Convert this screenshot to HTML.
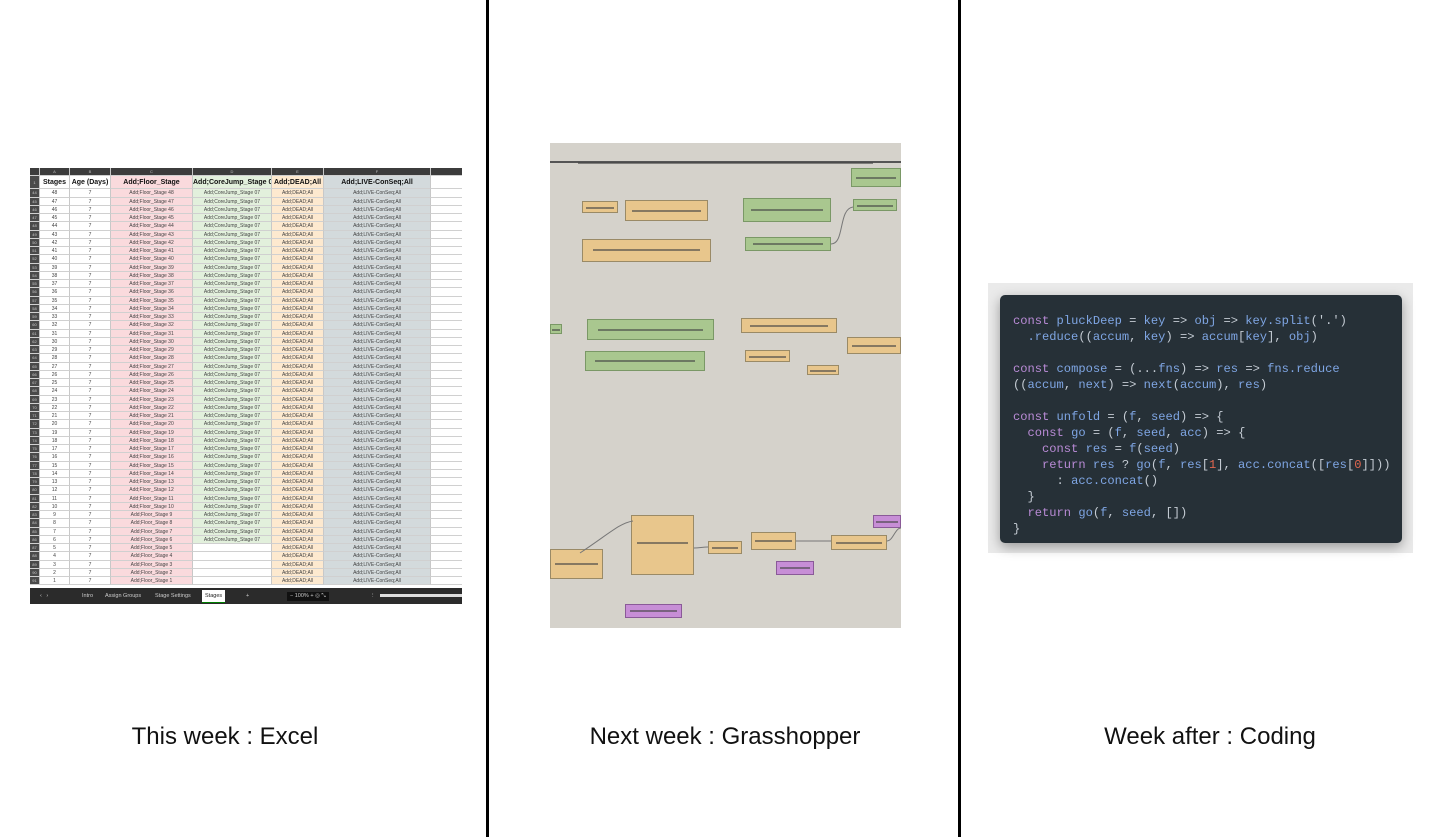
<!DOCTYPE html>
<html><head><meta charset="utf-8"><style>
*{margin:0;padding:0;box-sizing:border-box}
body{width:1451px;height:837px;background:#fff;position:relative;overflow:hidden;font-family:"Liberation Sans",sans-serif}
.vl{position:absolute;top:0;width:3px;height:837px;background:#000}
.cap{position:absolute;top:723px;font-size:24px;color:#111;text-align:center;width:470px}
#xl{position:absolute;left:30px;top:168px;width:432px;height:436px;background:#fff;overflow:hidden;font-size:5px;color:#444}
.r{display:flex;height:8.25px;line-height:8.25px}
.r>*{flex:none;text-align:center;border-right:1px solid #c8c8c8;border-bottom:1px solid #d0d0d0;font-style:normal;font-weight:normal;white-space:nowrap;overflow:hidden}
.r>i{width:10px;background:#4a4a4a;color:#ccc;font-size:4px}
.r>b:nth-child(2){width:30px}.r>b:nth-child(3){width:41px}
.r>b.c{width:82px;background:#fadadd}.r>b.d{width:79px;background:#e2f0dc}.r>b.e{width:52px;background:#fde9cf}.r>b.f{width:107px;background:#d3dadc}
.r>b.g{width:31px;border-right:none}
.h>*{background:#3c3c3c!important;color:#bbb;font-size:4px;height:8px}
.h1{height:13px!important;line-height:13px!important}
.h1>b{font-weight:bold!important;font-size:7px;color:#111}
.h1>b.f,.h1>b.c,.h1>b.d,.h1>b.e{font-size:7px}
#tabs{position:absolute;left:0;top:420px;width:432px;height:16px;background:#2b2b2b;color:#ccc;font-size:5.5px}
#tabs span{position:absolute;top:5px}
#gh{position:absolute;left:550px;top:143px;width:351px;height:485px;background:#d5d2cb;overflow:hidden}
#gh div{position:absolute;border:1px solid #9a8a66}
.o{background:#e8c68c}.gr{background:#a9c78f;border-color:#7a9866!important}.p{background:#c78ed6;border-color:#8a5a98!important}
#gh div::after{content:"";position:absolute;left:8%;right:8%;top:45%;height:2px;background:#444;opacity:.6}
#cs{position:absolute;left:988px;top:283px;width:425px;height:270px;background:#eaeaea}
#cb{position:absolute;left:1000px;top:295px;width:402px;height:248px;background:#263037;border-radius:5px;box-shadow:0 4px 12px rgba(0,0,0,.35)}
#code{position:absolute;left:1013px;top:313px;font-family:"Liberation Mono",monospace;font-size:12.1px;line-height:16px;color:#7fa6e4;white-space:pre}
.k{color:#b98bd6}.pu{color:#c5ccd4}.n{color:#e2674f}
</style></head><body>
<div class="vl" style="left:486px"></div>
<div class="vl" style="left:958px"></div>

<div id="xl">
<div class="r h"><i></i><b>A</b><b>B</b><b class="c">C</b><b class="d">D</b><b class="e">E</b><b class="f">F</b><b class="g"></b></div>
<div class="r h1"><i>1</i><b>Stages</b><b>Age (Days)</b><b class="c">Add;Floor_Stage</b><b class="d">Add;CoreJump_Stage 07</b><b class="e">Add;DEAD;All</b><b class="f">Add;LIVE-ConSeq;All</b><b class="g"></b></div>
<div class="r"><i>44</i><b>48</b><b>7</b><b class="c">Add;Floor_Stage 48</b><b class="d">Add;CoreJump_Stage 07</b><b class="e">Add;DEAD;All</b><b class="f">Add;LIVE-ConSeq;All</b><b class="g"></b></div>
<div class="r"><i>45</i><b>47</b><b>7</b><b class="c">Add;Floor_Stage 47</b><b class="d">Add;CoreJump_Stage 07</b><b class="e">Add;DEAD;All</b><b class="f">Add;LIVE-ConSeq;All</b><b class="g"></b></div>
<div class="r"><i>46</i><b>46</b><b>7</b><b class="c">Add;Floor_Stage 46</b><b class="d">Add;CoreJump_Stage 07</b><b class="e">Add;DEAD;All</b><b class="f">Add;LIVE-ConSeq;All</b><b class="g"></b></div>
<div class="r"><i>47</i><b>45</b><b>7</b><b class="c">Add;Floor_Stage 45</b><b class="d">Add;CoreJump_Stage 07</b><b class="e">Add;DEAD;All</b><b class="f">Add;LIVE-ConSeq;All</b><b class="g"></b></div>
<div class="r"><i>48</i><b>44</b><b>7</b><b class="c">Add;Floor_Stage 44</b><b class="d">Add;CoreJump_Stage 07</b><b class="e">Add;DEAD;All</b><b class="f">Add;LIVE-ConSeq;All</b><b class="g"></b></div>
<div class="r"><i>49</i><b>43</b><b>7</b><b class="c">Add;Floor_Stage 43</b><b class="d">Add;CoreJump_Stage 07</b><b class="e">Add;DEAD;All</b><b class="f">Add;LIVE-ConSeq;All</b><b class="g"></b></div>
<div class="r"><i>50</i><b>42</b><b>7</b><b class="c">Add;Floor_Stage 42</b><b class="d">Add;CoreJump_Stage 07</b><b class="e">Add;DEAD;All</b><b class="f">Add;LIVE-ConSeq;All</b><b class="g"></b></div>
<div class="r"><i>51</i><b>41</b><b>7</b><b class="c">Add;Floor_Stage 41</b><b class="d">Add;CoreJump_Stage 07</b><b class="e">Add;DEAD;All</b><b class="f">Add;LIVE-ConSeq;All</b><b class="g"></b></div>
<div class="r"><i>52</i><b>40</b><b>7</b><b class="c">Add;Floor_Stage 40</b><b class="d">Add;CoreJump_Stage 07</b><b class="e">Add;DEAD;All</b><b class="f">Add;LIVE-ConSeq;All</b><b class="g"></b></div>
<div class="r"><i>53</i><b>39</b><b>7</b><b class="c">Add;Floor_Stage 39</b><b class="d">Add;CoreJump_Stage 07</b><b class="e">Add;DEAD;All</b><b class="f">Add;LIVE-ConSeq;All</b><b class="g"></b></div>
<div class="r"><i>54</i><b>38</b><b>7</b><b class="c">Add;Floor_Stage 38</b><b class="d">Add;CoreJump_Stage 07</b><b class="e">Add;DEAD;All</b><b class="f">Add;LIVE-ConSeq;All</b><b class="g"></b></div>
<div class="r"><i>55</i><b>37</b><b>7</b><b class="c">Add;Floor_Stage 37</b><b class="d">Add;CoreJump_Stage 07</b><b class="e">Add;DEAD;All</b><b class="f">Add;LIVE-ConSeq;All</b><b class="g"></b></div>
<div class="r"><i>56</i><b>36</b><b>7</b><b class="c">Add;Floor_Stage 36</b><b class="d">Add;CoreJump_Stage 07</b><b class="e">Add;DEAD;All</b><b class="f">Add;LIVE-ConSeq;All</b><b class="g"></b></div>
<div class="r"><i>57</i><b>35</b><b>7</b><b class="c">Add;Floor_Stage 35</b><b class="d">Add;CoreJump_Stage 07</b><b class="e">Add;DEAD;All</b><b class="f">Add;LIVE-ConSeq;All</b><b class="g"></b></div>
<div class="r"><i>58</i><b>34</b><b>7</b><b class="c">Add;Floor_Stage 34</b><b class="d">Add;CoreJump_Stage 07</b><b class="e">Add;DEAD;All</b><b class="f">Add;LIVE-ConSeq;All</b><b class="g"></b></div>
<div class="r"><i>59</i><b>33</b><b>7</b><b class="c">Add;Floor_Stage 33</b><b class="d">Add;CoreJump_Stage 07</b><b class="e">Add;DEAD;All</b><b class="f">Add;LIVE-ConSeq;All</b><b class="g"></b></div>
<div class="r"><i>60</i><b>32</b><b>7</b><b class="c">Add;Floor_Stage 32</b><b class="d">Add;CoreJump_Stage 07</b><b class="e">Add;DEAD;All</b><b class="f">Add;LIVE-ConSeq;All</b><b class="g"></b></div>
<div class="r"><i>61</i><b>31</b><b>7</b><b class="c">Add;Floor_Stage 31</b><b class="d">Add;CoreJump_Stage 07</b><b class="e">Add;DEAD;All</b><b class="f">Add;LIVE-ConSeq;All</b><b class="g"></b></div>
<div class="r"><i>62</i><b>30</b><b>7</b><b class="c">Add;Floor_Stage 30</b><b class="d">Add;CoreJump_Stage 07</b><b class="e">Add;DEAD;All</b><b class="f">Add;LIVE-ConSeq;All</b><b class="g"></b></div>
<div class="r"><i>63</i><b>29</b><b>7</b><b class="c">Add;Floor_Stage 29</b><b class="d">Add;CoreJump_Stage 07</b><b class="e">Add;DEAD;All</b><b class="f">Add;LIVE-ConSeq;All</b><b class="g"></b></div>
<div class="r"><i>64</i><b>28</b><b>7</b><b class="c">Add;Floor_Stage 28</b><b class="d">Add;CoreJump_Stage 07</b><b class="e">Add;DEAD;All</b><b class="f">Add;LIVE-ConSeq;All</b><b class="g"></b></div>
<div class="r"><i>65</i><b>27</b><b>7</b><b class="c">Add;Floor_Stage 27</b><b class="d">Add;CoreJump_Stage 07</b><b class="e">Add;DEAD;All</b><b class="f">Add;LIVE-ConSeq;All</b><b class="g"></b></div>
<div class="r"><i>66</i><b>26</b><b>7</b><b class="c">Add;Floor_Stage 26</b><b class="d">Add;CoreJump_Stage 07</b><b class="e">Add;DEAD;All</b><b class="f">Add;LIVE-ConSeq;All</b><b class="g"></b></div>
<div class="r"><i>67</i><b>25</b><b>7</b><b class="c">Add;Floor_Stage 25</b><b class="d">Add;CoreJump_Stage 07</b><b class="e">Add;DEAD;All</b><b class="f">Add;LIVE-ConSeq;All</b><b class="g"></b></div>
<div class="r"><i>68</i><b>24</b><b>7</b><b class="c">Add;Floor_Stage 24</b><b class="d">Add;CoreJump_Stage 07</b><b class="e">Add;DEAD;All</b><b class="f">Add;LIVE-ConSeq;All</b><b class="g"></b></div>
<div class="r"><i>69</i><b>23</b><b>7</b><b class="c">Add;Floor_Stage 23</b><b class="d">Add;CoreJump_Stage 07</b><b class="e">Add;DEAD;All</b><b class="f">Add;LIVE-ConSeq;All</b><b class="g"></b></div>
<div class="r"><i>70</i><b>22</b><b>7</b><b class="c">Add;Floor_Stage 22</b><b class="d">Add;CoreJump_Stage 07</b><b class="e">Add;DEAD;All</b><b class="f">Add;LIVE-ConSeq;All</b><b class="g"></b></div>
<div class="r"><i>71</i><b>21</b><b>7</b><b class="c">Add;Floor_Stage 21</b><b class="d">Add;CoreJump_Stage 07</b><b class="e">Add;DEAD;All</b><b class="f">Add;LIVE-ConSeq;All</b><b class="g"></b></div>
<div class="r"><i>72</i><b>20</b><b>7</b><b class="c">Add;Floor_Stage 20</b><b class="d">Add;CoreJump_Stage 07</b><b class="e">Add;DEAD;All</b><b class="f">Add;LIVE-ConSeq;All</b><b class="g"></b></div>
<div class="r"><i>73</i><b>19</b><b>7</b><b class="c">Add;Floor_Stage 19</b><b class="d">Add;CoreJump_Stage 07</b><b class="e">Add;DEAD;All</b><b class="f">Add;LIVE-ConSeq;All</b><b class="g"></b></div>
<div class="r"><i>74</i><b>18</b><b>7</b><b class="c">Add;Floor_Stage 18</b><b class="d">Add;CoreJump_Stage 07</b><b class="e">Add;DEAD;All</b><b class="f">Add;LIVE-ConSeq;All</b><b class="g"></b></div>
<div class="r"><i>75</i><b>17</b><b>7</b><b class="c">Add;Floor_Stage 17</b><b class="d">Add;CoreJump_Stage 07</b><b class="e">Add;DEAD;All</b><b class="f">Add;LIVE-ConSeq;All</b><b class="g"></b></div>
<div class="r"><i>76</i><b>16</b><b>7</b><b class="c">Add;Floor_Stage 16</b><b class="d">Add;CoreJump_Stage 07</b><b class="e">Add;DEAD;All</b><b class="f">Add;LIVE-ConSeq;All</b><b class="g"></b></div>
<div class="r"><i>77</i><b>15</b><b>7</b><b class="c">Add;Floor_Stage 15</b><b class="d">Add;CoreJump_Stage 07</b><b class="e">Add;DEAD;All</b><b class="f">Add;LIVE-ConSeq;All</b><b class="g"></b></div>
<div class="r"><i>78</i><b>14</b><b>7</b><b class="c">Add;Floor_Stage 14</b><b class="d">Add;CoreJump_Stage 07</b><b class="e">Add;DEAD;All</b><b class="f">Add;LIVE-ConSeq;All</b><b class="g"></b></div>
<div class="r"><i>79</i><b>13</b><b>7</b><b class="c">Add;Floor_Stage 13</b><b class="d">Add;CoreJump_Stage 07</b><b class="e">Add;DEAD;All</b><b class="f">Add;LIVE-ConSeq;All</b><b class="g"></b></div>
<div class="r"><i>80</i><b>12</b><b>7</b><b class="c">Add;Floor_Stage 12</b><b class="d">Add;CoreJump_Stage 07</b><b class="e">Add;DEAD;All</b><b class="f">Add;LIVE-ConSeq;All</b><b class="g"></b></div>
<div class="r"><i>81</i><b>11</b><b>7</b><b class="c">Add;Floor_Stage 11</b><b class="d">Add;CoreJump_Stage 07</b><b class="e">Add;DEAD;All</b><b class="f">Add;LIVE-ConSeq;All</b><b class="g"></b></div>
<div class="r"><i>82</i><b>10</b><b>7</b><b class="c">Add;Floor_Stage 10</b><b class="d">Add;CoreJump_Stage 07</b><b class="e">Add;DEAD;All</b><b class="f">Add;LIVE-ConSeq;All</b><b class="g"></b></div>
<div class="r"><i>83</i><b>9</b><b>7</b><b class="c">Add;Floor_Stage 9</b><b class="d">Add;CoreJump_Stage 07</b><b class="e">Add;DEAD;All</b><b class="f">Add;LIVE-ConSeq;All</b><b class="g"></b></div>
<div class="r"><i>84</i><b>8</b><b>7</b><b class="c">Add;Floor_Stage 8</b><b class="d">Add;CoreJump_Stage 07</b><b class="e">Add;DEAD;All</b><b class="f">Add;LIVE-ConSeq;All</b><b class="g"></b></div>
<div class="r"><i>85</i><b>7</b><b>7</b><b class="c">Add;Floor_Stage 7</b><b class="d">Add;CoreJump_Stage 07</b><b class="e">Add;DEAD;All</b><b class="f">Add;LIVE-ConSeq;All</b><b class="g"></b></div>
<div class="r"><i>86</i><b>6</b><b>7</b><b class="c">Add;Floor_Stage 6</b><b class="d">Add;CoreJump_Stage 07</b><b class="e">Add;DEAD;All</b><b class="f">Add;LIVE-ConSeq;All</b><b class="g"></b></div>
<div class="r"><i>87</i><b>5</b><b>7</b><b class="c">Add;Floor_Stage 5</b><b class="d" style="background:#fff"></b><b class="e">Add;DEAD;All</b><b class="f">Add;LIVE-ConSeq;All</b><b class="g"></b></div>
<div class="r"><i>88</i><b>4</b><b>7</b><b class="c">Add;Floor_Stage 4</b><b class="d" style="background:#fff"></b><b class="e">Add;DEAD;All</b><b class="f">Add;LIVE-ConSeq;All</b><b class="g"></b></div>
<div class="r"><i>89</i><b>3</b><b>7</b><b class="c">Add;Floor_Stage 3</b><b class="d" style="background:#fff"></b><b class="e">Add;DEAD;All</b><b class="f">Add;LIVE-ConSeq;All</b><b class="g"></b></div>
<div class="r"><i>90</i><b>2</b><b>7</b><b class="c">Add;Floor_Stage 2</b><b class="d" style="background:#fff"></b><b class="e">Add;DEAD;All</b><b class="f">Add;LIVE-ConSeq;All</b><b class="g"></b></div>
<div class="r"><i>91</i><b>1</b><b>7</b><b class="c">Add;Floor_Stage 1</b><b class="d" style="background:#fff"></b><b class="e">Add;DEAD;All</b><b class="f">Add;LIVE-ConSeq;All</b><b class="g"></b></div>
<div id="tabs"><span style="left:10px">‹ &nbsp; ›</span><span style="left:52px">Intro</span><span style="left:75px">Assign Groups</span><span style="left:125px">Stage Settings</span><span style="left:172px;background:#fff;color:#222;top:2px;padding:3px 3px;border-bottom:1px solid green">Stages</span><span style="left:216px">+</span><span style="left:257px;background:#111;padding:1px 3px;top:4px">− 100% + ◎ ⤡</span><span style="left:340px">⋮</span><span style="left:350px;width:82px;height:3px;background:#ddd;top:6px"></span></div>
</div>

<div id="gh">
<div style="left:0;top:18px;width:351px;height:2px;background:#555;border:none"></div>
<div class="gr" style="left:301px;top:25px;width:50px;height:19px"></div>
<div class="o" style="left:32px;top:58px;width:36px;height:12px"></div>
<div class="o" style="left:75px;top:57px;width:83px;height:21px"></div>
<div class="gr" style="left:193px;top:55px;width:88px;height:24px"></div>
<div class="gr" style="left:303px;top:56px;width:44px;height:12px"></div>
<div class="gr" style="left:195px;top:94px;width:86px;height:14px"></div>
<div class="o" style="left:32px;top:96px;width:129px;height:23px"></div>
<div class="gr" style="left:0;top:181px;width:12px;height:10px"></div>
<div class="gr" style="left:37px;top:176px;width:127px;height:21px"></div>
<div class="o" style="left:191px;top:175px;width:96px;height:15px"></div>
<div class="gr" style="left:35px;top:208px;width:120px;height:20px"></div>
<div class="o" style="left:195px;top:207px;width:45px;height:12px"></div>
<div class="o" style="left:297px;top:194px;width:54px;height:17px"></div>
<div class="o" style="left:257px;top:222px;width:32px;height:10px"></div>
<div class="o" style="left:0;top:406px;width:53px;height:30px"></div>
<div class="o" style="left:81px;top:372px;width:63px;height:60px"></div>
<div class="o" style="left:158px;top:398px;width:34px;height:13px"></div>
<div class="o" style="left:201px;top:389px;width:45px;height:18px"></div>
<div class="o" style="left:281px;top:392px;width:56px;height:15px"></div>
<div class="p" style="left:226px;top:418px;width:38px;height:14px"></div>
<div class="p" style="left:323px;top:372px;width:28px;height:13px"></div>
<div class="p" style="left:75px;top:461px;width:57px;height:14px"></div>
<svg style="position:absolute;left:0;top:0" width="351" height="485" fill="none" stroke="#777" stroke-width="1"><path d="M281 101 C295 101 288 66 303 64"/><path d="M30 410 C60 390 70 380 83 378"/><path d="M144 405 C150 405 152 404 158 404"/><path d="M246 398 C260 398 266 398 281 398"/><path d="M337 398 C343 398 345 385 351 385"/></svg>
</div>

<div id="cs"></div>
<div id="cb"></div>
<div id="code"><span class="k">const</span> pluckDeep <span class="pu">=</span> key <span class="pu">=&gt;</span> obj <span class="pu">=&gt;</span> key.split<span class="pu">(</span><span class="pu">'.'</span><span class="pu">)</span>
  .reduce<span class="pu">((</span>accum<span class="pu">,</span> key<span class="pu">)</span> <span class="pu">=&gt;</span> accum<span class="pu">[</span>key<span class="pu">],</span> obj<span class="pu">)</span>

<span class="k">const</span> compose <span class="pu">=</span> <span class="pu">(...</span>fns<span class="pu">)</span> <span class="pu">=&gt;</span> res <span class="pu">=&gt;</span> fns.reduce
<span class="pu">((</span>accum<span class="pu">,</span> next<span class="pu">)</span> <span class="pu">=&gt;</span> next<span class="pu">(</span>accum<span class="pu">),</span> res<span class="pu">)</span>

<span class="k">const</span> unfold <span class="pu">=</span> <span class="pu">(</span>f<span class="pu">,</span> seed<span class="pu">)</span> <span class="pu">=&gt;</span> <span class="pu">{</span>
  <span class="k">const</span> go <span class="pu">=</span> <span class="pu">(</span>f<span class="pu">,</span> seed<span class="pu">,</span> acc<span class="pu">)</span> <span class="pu">=&gt;</span> <span class="pu">{</span>
    <span class="k">const</span> res <span class="pu">=</span> f<span class="pu">(</span>seed<span class="pu">)</span>
    <span class="k">return</span> res <span class="pu">?</span> go<span class="pu">(</span>f<span class="pu">,</span> res<span class="pu">[</span><span class="n">1</span><span class="pu">],</span> acc.concat<span class="pu">([</span>res<span class="pu">[</span><span class="n">0</span><span class="pu">]]))</span>
      <span class="pu">:</span> acc.concat<span class="pu">()</span>
  <span class="pu">}</span>
  <span class="k">return</span> go<span class="pu">(</span>f<span class="pu">,</span> seed<span class="pu">,</span> <span class="pu">[])</span>
<span class="pu">}</span></div>

<div class="cap" style="left:-10px">This week : Excel</div>
<div class="cap" style="left:490px">Next week : Grasshopper</div>
<div class="cap" style="left:975px">Week after : Coding</div>
</body></html>
